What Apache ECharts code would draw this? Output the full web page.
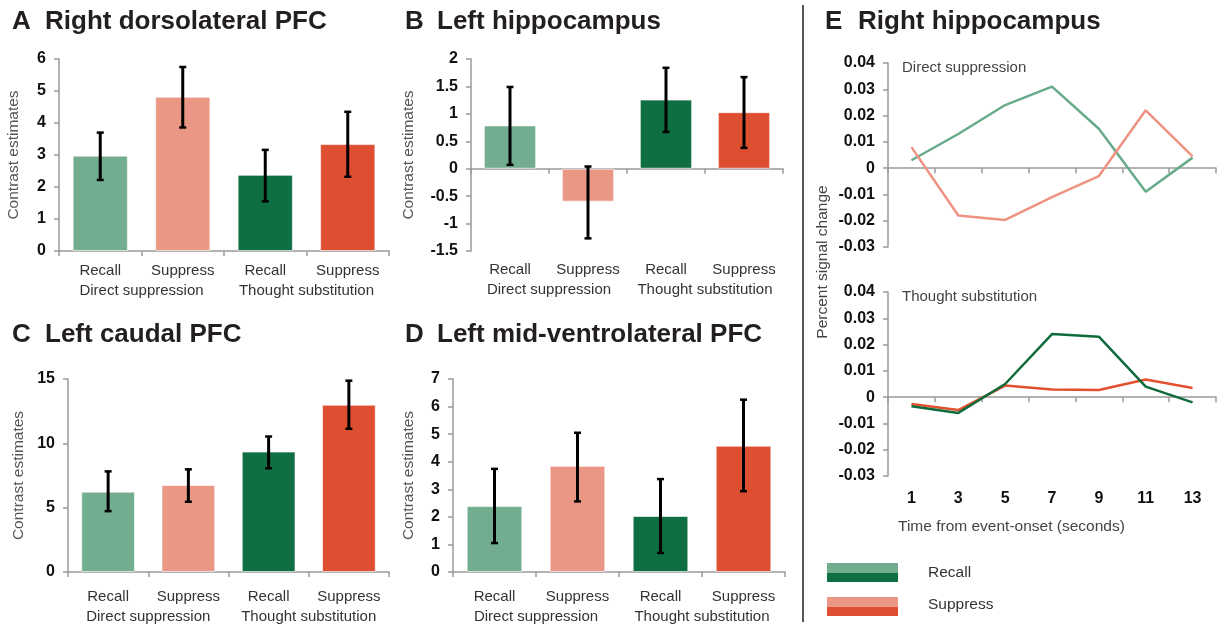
<!DOCTYPE html>
<html><head><meta charset="utf-8">
<script src="https://cdn.jsdelivr.net/npm/echarts@6/dist/echarts.min.js"></script>
<style>html,body{margin:0;padding:0;background:#fff}#c{width:1219px;height:628px}</style>
</head><body><div id="c"></div>
<script>
// ---------- DATA ----------
const barCategories = ['Recall', 'Suppress', 'Recall', 'Suppress'];
const groupLabels = ['Direct suppression', 'Thought substitution'];

const dlpfcMean = [2.98, 4.82, 2.38, 3.34];
const dlpfcLow  = [2.22, 3.86, 1.55, 2.32];
const dlpfcHigh = [3.70, 5.75, 3.16, 4.35];

const lhipMean = [0.79, -0.60, 1.26, 1.03];
const lhipLow  = [0.07, -1.27, 0.67, 0.38];
const lhipHigh = [1.49, 0.04, 1.84, 1.67];

const caudalMean = [6.24, 6.76, 9.36, 13.0];
const caudalLow  = [4.73, 5.46, 8.06, 11.13];
const caudalHigh = [7.82, 7.98, 10.53, 14.87];

const mvlpfcMean = [2.39, 3.85, 2.03, 4.58];
const mvlpfcLow  = [1.05, 2.56, 0.69, 2.93];
const mvlpfcHigh = [3.74, 5.05, 3.37, 6.25];

const timePoints = ['1', '3', '5', '7', '9', '11', '13'];
const dsRecall   = [0.003, 0.013, 0.024, 0.031, 0.015, -0.009, 0.004];
const dsSuppress = [0.008, -0.018, -0.0197, -0.011, -0.003, 0.022, 0.0045];
const tsRecall   = [-0.0035, -0.006, 0.005, 0.024, 0.023, 0.004, -0.002];
const tsSuppress = [-0.0026, -0.0049, 0.0044, 0.0029, 0.0027, 0.0067, 0.0035];

// ---------- STYLE / LAYOUT ----------
const F = "'Liberation Sans', Arial, Helvetica, sans-serif";
const barColors = ['#72AD8F', '#EA9786', '#0F6F42', '#DE4E31'];
const axisGray = '#9a9a9a';

const panels = [
  {mean: dlpfcMean, low: dlpfcLow, high: dlpfcHigh, min: 0, max: 6, interval: 1,
   grid: {left: 59, top: 59, width: 330, height: 192}, nameGap: 37, m1: 12, m2: 32},
  {mean: lhipMean, low: lhipLow, high: lhipHigh, min: -1.5, max: 2, interval: 0.5,
   grid: {left: 471, top: 59, width: 312, height: 192}, nameGap: 54, m1: 11, m2: 31},
  {mean: caudalMean, low: caudalLow, high: caudalHigh, min: 0, max: 15, interval: 5,
   grid: {left: 68, top: 379, width: 321, height: 193}, nameGap: 41, m1: 17, m2: 37},
  {mean: mvlpfcMean, low: mvlpfcLow, high: mvlpfcHigh, min: 0, max: 7, interval: 1,
   grid: {left: 453, top: 379, width: 332, height: 193}, nameGap: 36, m1: 17, m2: 37}
];

const grids = [], xAxes = [], yAxes = [], series = [];

function valueY(i, min, max, interval, name, nameGap) {
  return {
    type: 'value', gridIndex: i, min: min, max: max, interval: interval,
    name: name, nameLocation: 'middle', nameGap: nameGap,
    nameTextStyle: {color: '#555', fontSize: 15.5, fontFamily: F},
    axisLine: {show: true, onZero: false, lineStyle: {color: axisGray, width: 1.5}},
    axisTick: {show: true, length: 5, lineStyle: {color: axisGray, width: 1.5}},
    axisLabel: {color: '#111', fontWeight: 'bold', fontSize: 16, fontFamily: F, margin: 13},
    splitLine: {show: false}
  };
}
function lineX(i, data) {
  return {
    type: 'category', gridIndex: i, data: data, boundaryGap: true,
    axisLine: {show: true, onZero: true, lineStyle: {color: axisGray, width: 1.5}},
    axisTick: {show: true, interval: 0, length: 5, lineStyle: {color: axisGray, width: 1.5}},
    axisLabel: {show: false}, splitLine: {show: false}
  };
}
function labelX(i, data, margin, bold) {
  return {
    type: 'category', gridIndex: i, data: data, position: 'bottom', boundaryGap: true,
    axisLine: {show: false, onZero: false}, axisTick: {show: false}, splitLine: {show: false},
    axisLabel: {interval: 0, margin: margin, color: bold ? '#111' : '#333',
      fontWeight: bold ? 'bold' : 'normal', fontSize: bold ? 16 : 15, fontFamily: F}
  };
}

function errRender(params, api) {
  const x = api.value(0);
  const lo = api.coord([x, api.value(1)]);
  const hi = api.coord([x, api.value(2)]);
  const w = 3.5;
  const st = {stroke: '#000', lineWidth: 3};
  return {type: 'group', children: [
    {type: 'line', shape: {x1: lo[0], y1: lo[1], x2: hi[0], y2: hi[1]}, style: st},
    {type: 'line', shape: {x1: lo[0] - w, y1: lo[1], x2: lo[0] + w, y2: lo[1]}, style: {stroke: '#000', lineWidth: 2.5}},
    {type: 'line', shape: {x1: hi[0] - w, y1: hi[1], x2: hi[0] + w, y2: hi[1]}, style: {stroke: '#000', lineWidth: 2.5}}
  ]};
}

panels.forEach(function (p, i) {
  grids.push(Object.assign({outerBoundsMode: 'none', containLabel: false}, p.grid));
  xAxes.push(lineX(i, barCategories));
  xAxes.push(labelX(i, barCategories, p.m1, false));
  xAxes.push(labelX(i, groupLabels, p.m2, false));
  yAxes.push(valueY(i, p.min, p.max, p.interval, 'Contrast estimates', p.nameGap));
  series.push({
    type: 'bar', xAxisIndex: 3 * i, yAxisIndex: i, barWidth: '67%', silent: true,
    itemStyle: {borderColor: 'rgba(255,255,255,0.6)', borderWidth: 1},
    data: p.mean.map(function (v, k) { return {value: v, itemStyle: {color: barColors[k]}}; })
  });
  series.push({
    type: 'custom', xAxisIndex: 3 * i, yAxisIndex: i, z: 5, silent: true,
    renderItem: errRender, encode: {x: 0, y: [1, 2]},
    data: p.mean.map(function (v, k) { return [k, p.low[k], p.high[k]]; })
  });
});

// Panel E: two line subplots
const eGrids = [{left: 888, top: 63, width: 328, height: 184}, {left: 888, top: 292, width: 328, height: 184}];
eGrids.forEach(function (g) { grids.push(Object.assign({outerBoundsMode: 'none', containLabel: false}, g)); });
xAxes.push(lineX(4, timePoints));               // index 12
yAxes.push(valueY(4, -0.03, 0.04, 0.01, '', 0)); // y index 4
xAxes.push(lineX(5, timePoints));               // index 13
xAxes.push(labelX(5, timePoints, 15, true));     // index 14
yAxes.push(valueY(5, -0.03, 0.04, 0.01, '', 0)); // y index 5

function lineSeries(xi, yi, data, color) {
  return {type: 'line', xAxisIndex: xi, yAxisIndex: yi, data: data, symbol: 'none', showSymbol: false,
    silent: true, lineStyle: {color: color, width: 2.5}, itemStyle: {color: color}};
}
series.push(lineSeries(12, 4, dsRecall, '#68AB8A'));
series.push(lineSeries(12, 4, dsSuppress, '#EE9382'));
series.push(lineSeries(13, 5, tsSuppress, '#E2502F'));
series.push(lineSeries(13, 5, tsRecall, '#0E6B3C'));

// ---------- GRAPHICS (titles, divider, legend, E labels) ----------
const titleFont = 'bold 26px ' + F;
const titleColor = '#231F20';
function txt(x, y, s, font, color, align, rot) {
  return {type: 'text', x: x, y: y, rotation: rot || 0, silent: true,
    style: {text: s, font: font, fill: color, textAlign: align || 'left', textVerticalAlign: 'middle',
      align: align || 'left', verticalAlign: 'middle'}};
}
const graphics = [
  txt(12, 22, 'A', titleFont, titleColor), txt(45, 22, 'Right dorsolateral PFC', titleFont, titleColor),
  txt(405, 22, 'B', titleFont, titleColor), txt(437, 22, 'Left hippocampus', titleFont, titleColor),
  txt(12, 335, 'C', titleFont, titleColor), txt(45, 335, 'Left caudal PFC', titleFont, titleColor),
  txt(405, 335, 'D', titleFont, titleColor), txt(437, 335, 'Left mid-ventrolateral PFC', titleFont, titleColor),
  txt(825, 22, 'E', titleFont, titleColor), txt(858, 22, 'Right hippocampus', titleFont, titleColor),
  {type: 'line', silent: true, shape: {x1: 803, y1: 5, x2: 803, y2: 622}, style: {stroke: '#555', lineWidth: 2}},
  txt(902, 68, 'Direct suppression', '15px ' + F, '#444'),
  txt(902, 297, 'Thought substitution', '15px ' + F, '#444'),
  txt(823, 262, 'Percent signal change', '15.5px ' + F, '#444', 'center', Math.PI / 2),
  txt(898, 527, 'Time from event-onset (seconds)', '15.5px ' + F, '#444'),
  {type: 'rect', silent: true, shape: {x: 827, y: 563, width: 71, height: 10}, style: {fill: '#72AD8F'}},
  {type: 'rect', silent: true, shape: {x: 827, y: 573, width: 71, height: 9}, style: {fill: '#0F6F42'}},
  {type: 'rect', silent: true, shape: {x: 827, y: 597, width: 71, height: 10}, style: {fill: '#EA9786'}},
  {type: 'rect', silent: true, shape: {x: 827, y: 607, width: 71, height: 9}, style: {fill: '#DE4E31'}},
  txt(928, 573, 'Recall', '15.5px ' + F, '#333'),
  txt(928, 605, 'Suppress', '15.5px ' + F, '#333')
];

const chart = echarts.init(document.getElementById('c'), null, {renderer: 'canvas'});
chart.setOption({
  backgroundColor: '#ffffff',
  animation: false,
  textStyle: {fontFamily: F},
  grid: grids,
  xAxis: xAxes,
  yAxis: yAxes,
  series: series,
  graphic: graphics
});
</script></body></html>
